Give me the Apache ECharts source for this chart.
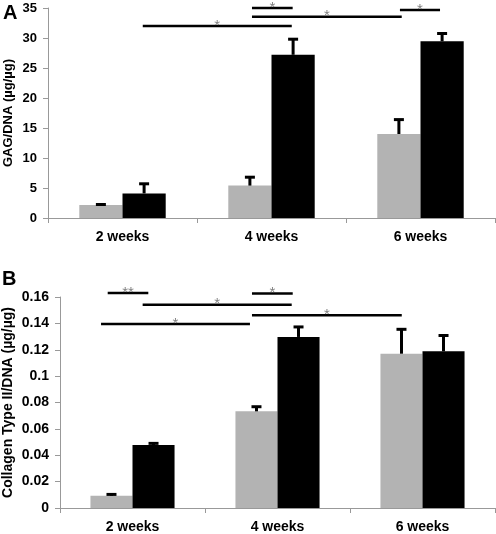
<!DOCTYPE html>
<html>
<head>
<meta charset="utf-8">
<script src="https://cdn.jsdelivr.net/npm/echarts@6/dist/echarts.min.js"></script>
<style>
html,body{margin:0;padding:0;background:#fff;}
#chart{width:496px;height:534px;}
</style>
</head>
<body>
<div id="chart"></div>
<script>
// ---- data ----
const categories = ['2 weeks', '4 weeks', '6 weeks'];
// Panel A: GAG/DNA
const gagGray = [2.15, 5.4, 14.0];
const gagGrayErr = [0.1, 1.4, 2.4];
const gagBlack = [4.1, 27.2, 29.45];
const gagBlackErr = [1.6, 2.6, 1.3];
const gagTicks = [0, 5, 10, 15, 20, 25, 30, 35];
// Panel B: Collagen Type II/DNA
const colGray = [0.0093, 0.0733, 0.117];
const colGrayErr = [0.001, 0.0035, 0.0185];
const colBlack = [0.0478, 0.1297, 0.1188];
const colBlackErr = [0.0012, 0.0076, 0.012];
const colTicks = [0, 0.02, 0.04, 0.06, 0.08, 0.1, 0.12, 0.14, 0.16];
// significance brackets: [xStart, xEnd (category units), y, label]
const sigA = [
  [0.136, 1.136, 32.0, '*'],
  [0.869, 1.142, 35.0, '*'],
  [0.869, 1.874, 33.55, '*'],
  [1.862, 2.131, 34.65, '*']
];
const sigB = [
  [-0.171, 0.109, 0.163, '**'],
  [0.070, 1.098, 0.1542, '*'],
  [-0.217, 0.81, 0.1395, '*'],
  [0.824, 1.105, 0.1626, '*'],
  [0.824, 1.857, 0.1462, '*']
];

// ---- styling constants ----
const FONT = 'Liberation Sans, Arial, sans-serif';
const GRAY = '#b3b3b3';
const AXIS = '#999999';
const BAR_W = 0.29;
const OFF = BAR_W / 2;

function errData(vals, errs, side) {
  return vals.map((v, i) => [i + side * OFF, v, v + errs[i]]);
}

function errRender(params, api) {
  const p1 = api.coord([api.value(0), api.value(1)]);
  const p2 = api.coord([api.value(0), api.value(2)]);
  const st = { stroke: '#000', lineWidth: 3 };
  return {
    type: 'group',
    children: [
      { type: 'line', shape: { x1: p1[0], y1: p1[1], x2: p2[0], y2: p2[1] }, style: st },
      { type: 'line', shape: { x1: p2[0] - 5, y1: p2[1], x2: p2[0] + 5, y2: p2[1] }, style: st }
    ]
  };
}

function sigRender(params, api) {
  const a = api.coord([api.value(0), api.value(2)]);
  const b = api.coord([api.value(1), api.value(2)]);
  return {
    type: 'group',
    children: [
      { type: 'line', shape: { x1: a[0], y1: a[1], x2: b[0], y2: b[1] }, style: { stroke: '#000', lineWidth: 2.5 } },
      { type: 'text', x: (a[0] + b[0]) / 2, y: a[1] - 8,
        style: { text: api.value(3), fill: '#808080', font: '15px ' + FONT, align: 'center', verticalAlign: 'top' } }
    ]
  };
}

function catAxis(gridIndex) {
  return {
    type: 'category', gridIndex, data: categories,
    axisLine: { onZero: false, lineStyle: { color: AXIS, width: 1 } },
    axisTick: { show: true, length: 5, lineStyle: { color: AXIS } },
    axisLabel: { color: '#000', fontWeight: 'bold', fontSize: 14, fontFamily: FONT, margin: 12 },
    splitLine: { show: false }
  };
}
function hiddenX(gridIndex) {
  return { type: 'value', gridIndex, min: -0.5, max: 2.5, show: false, splitLine: { show: false } };
}
function valAxis(gridIndex, ticks, name, nameGap, fontSize) {
  return {
    type: 'value', gridIndex, min: ticks[0], max: ticks[ticks.length - 1],
    interval: ticks[1] - ticks[0],
    name, nameLocation: 'middle', nameGap, nameMoveOverlap: false,
    nameTextStyle: { color: '#000', fontWeight: 'bold', fontSize: fontSize, fontFamily: FONT },
    axisLine: { show: true, onZero: false, lineStyle: { color: AXIS, width: 1 } },
    axisTick: { show: true, length: 5, lineStyle: { color: AXIS } },
    axisLabel: { color: '#000', fontWeight: 'bold', fontSize: fontSize, fontFamily: FONT, margin: 11 },
    splitLine: { show: false }
  };
}

const chart = echarts.init(document.getElementById('chart'), null, { renderer: 'canvas' });
chart.setOption({
  animation: false,
  backgroundColor: '#fff',
  grid: [
    { left: 48, top: 8, width: 447, height: 210, containLabel: false, outerBoundsMode: 'none' },
    { left: 60, top: 297, width: 435, height: 211, containLabel: false, outerBoundsMode: 'none' }
  ],
  xAxis: [catAxis(0), hiddenX(0), catAxis(1), hiddenX(1)],
  yAxis: [
    valAxis(0, gagTicks, 'GAG/DNA (µg/µg)', 33, 13),
    valAxis(1, colTicks, 'Collagen Type II/DNA (µg/µg)', 45, 14)
  ],
  graphic: [
    { type: 'text', left: 3, top: 3, style: { text: 'A', font: 'bold 20px ' + FONT, fill: '#000' } },
    { type: 'text', left: 2, top: 269, style: { text: 'B', font: 'bold 20px ' + FONT, fill: '#000' } }
  ],
  series: [
    { type: 'bar', xAxisIndex: 0, yAxisIndex: 0, data: gagGray, barWidth: '29%', barGap: '0%', itemStyle: { color: GRAY } },
    { type: 'bar', xAxisIndex: 0, yAxisIndex: 0, data: gagBlack, barWidth: '29%', barGap: '0%', itemStyle: { color: '#000' } },
    { type: 'custom', xAxisIndex: 1, yAxisIndex: 0, data: errData(gagGray, gagGrayErr, -1), renderItem: errRender, encode: { x: 0, y: [1, 2] }, z: 5 },
    { type: 'custom', xAxisIndex: 1, yAxisIndex: 0, data: errData(gagBlack, gagBlackErr, 1), renderItem: errRender, encode: { x: 0, y: [1, 2] }, z: 5 },
    { type: 'custom', xAxisIndex: 1, yAxisIndex: 0, data: sigA, renderItem: sigRender, encode: { x: [0, 1], y: 2 }, z: 6, clip: false },

    { type: 'bar', xAxisIndex: 2, yAxisIndex: 1, data: colGray, barWidth: '29%', barGap: '0%', itemStyle: { color: GRAY } },
    { type: 'bar', xAxisIndex: 2, yAxisIndex: 1, data: colBlack, barWidth: '29%', barGap: '0%', itemStyle: { color: '#000' } },
    { type: 'custom', xAxisIndex: 3, yAxisIndex: 1, data: errData(colGray, colGrayErr, -1), renderItem: errRender, encode: { x: 0, y: [1, 2] }, z: 5 },
    { type: 'custom', xAxisIndex: 3, yAxisIndex: 1, data: errData(colBlack, colBlackErr, 1), renderItem: errRender, encode: { x: 0, y: [1, 2] }, z: 5 },
    { type: 'custom', xAxisIndex: 3, yAxisIndex: 1, data: sigB, renderItem: sigRender, encode: { x: [0, 1], y: 2 }, z: 6, clip: false }
  ]
});
</script>
</body>
</html>
